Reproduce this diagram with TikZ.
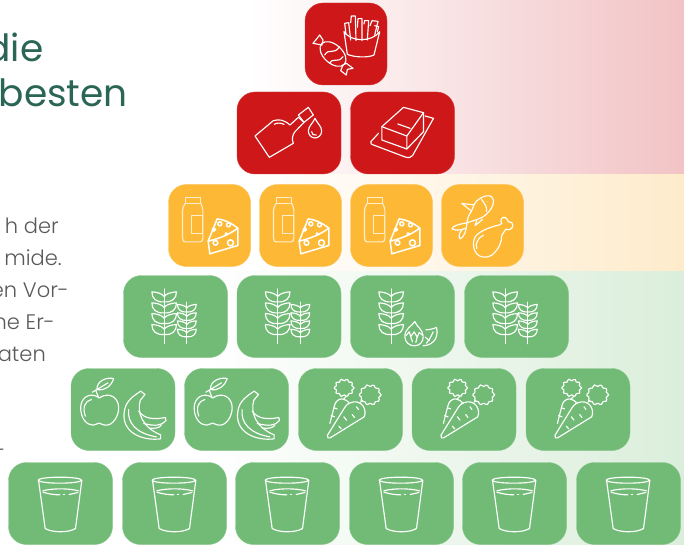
\documentclass[tikz,border=0pt]{standalone}
\usepackage{fontspec}
\setmainfont{Poppins}
\newfontfamily\headfont{Poppins}
\newfontfamily\linefont{Poppins Light}
\definecolor{foodred}{HTML}{CE1719}
\definecolor{foodorange}{HTML}{FDB935}
\definecolor{foodgreen}{HTML}{71BB76}
\definecolor{bandred}{HTML}{F2C3C5}
\definecolor{bandorange}{HTML}{FEEBCB}
\definecolor{bandgreen}{HTML}{DBEEDB}
\definecolor{headgreen}{HTML}{2A6555}
\definecolor{bodygray}{HTML}{58595B}
\newcommand{\wheatear}{
  \draw[iconline] (0,-83)--(0,81);
  \foreach \t in {-74,-41,-9,24} {
    \draw[iconline] (0,\t+30) .. controls (-24,\t+32) and (-37,\t+20) .. (-37,\t) .. controls (-22,\t+1) and (-6,\t+5) .. (0,\t+14);
    \draw[iconline] (0,\t+30) .. controls (24,\t+32) and (37,\t+20) .. (37,\t) .. controls (22,\t+1) and (6,\t+5) .. (0,\t+14);
  }
}
\tikzset{
  foodbox/.style={rounded corners=18pt, minimum height=82pt, inner sep=0pt},
  redsmall/.style={foodbox, fill=foodred, draw=foodred!85!white, line width=.4pt, minimum width=82pt},
  redwide/.style={foodbox, fill=foodred, draw=foodred!85!white, line width=.4pt, minimum width=104pt},
  orangesmall/.style={foodbox, fill=foodorange, draw=foodorange!85!white, line width=.4pt, minimum width=82pt},
  greenwide/.style={foodbox, fill=foodgreen, draw=foodgreen!85!white, line width=.4pt, minimum width=104pt},
  iconline/.style={draw=white, line width=1.15pt, line join=round, line cap=round},
  headtext/.style={anchor=base east, inner sep=0pt, text=headgreen, font=\headfont\fontsize{37.5}{37.5}\selectfont},
  bodytext/.style={anchor=base east, inner sep=0pt, text=bodygray, font=\linefont\fontsize{21}{21}\selectfont},
  pics/grain/.style={code={
    \begin{scope}[shift={(-34,0)}]\wheatear\end{scope}
    \begin{scope}[shift={(34,20)}, scale=.76]\wheatear\end{scope}
  }},
  pics/grainnut/.style={code={
    \begin{scope}[shift={(-34,0)}]\wheatear\end{scope}
    \draw[iconline] (37,15) .. controls (30,28) and (7,35) .. (7,60) .. controls (7,78) and (22,88) .. (35,88) .. controls (52,88) and (64,75) .. (62,58) .. controls (60,38) and (42,30) .. (37,15);
    \draw[iconline] (10,58) -- (20,46) -- (25,60) -- (35,46) -- (44,62) -- (50,48) -- (60,56);
    \draw[iconline] (25,62) -- (30,76);
    \draw[iconline] (44,62) -- (40,78);
    \draw[iconline] (70,40) .. controls (82,40) and (94,36) .. (102,33) .. controls (108,58) and (98,85) .. (62,88);
    \draw[iconline] (72,80) .. controls (82,68) and (88,55) .. (92,46);
    \draw[iconline] (80,72) -- (68,62);
  }},
  pics/friescandy/.style={code={
    \draw[iconline] (-6,-37) .. controls (15,-5) and (78,-5) .. (101,-37) -- (84,33) .. controls (65,42) and (25,40) .. (4,31) -- cycle;
    \draw[iconline] (0,-28) -- (-4,-62) -- (8,-64) -- (14,-12);
    \draw[iconline] (14,-64) -- (16,-84) -- (28,-84) -- (30,-10);
    \draw[iconline] (34,-50) -- (36,-76) -- (48,-76) -- (48,-10);
    \draw[iconline] (54,-60) -- (56,-70) -- (68,-70) -- (64,-12);
    \draw[iconline] (72,-55) -- (78,-70) -- (96,-68) -- (86,-26);
    \draw[iconline] (86,-55) -- (98,-52) -- (94,-36);
    \draw[iconline] (-39,30) ellipse[x radius=46, y radius=28, rotate=-42];
    \draw[iconline] (-64,33) .. controls (-50,10) and (-38,35) .. (-19,8);
    \draw[iconline] (-49,58) .. controls (-38,38) and (-25,60) .. (-9,38);
    \draw[iconline] (-72,3) -- (-99,-2) -- (-89,-14) -- (-79,-27) -- (-69,-12) -- cycle;
    \draw[iconline] (-9,63) -- (-16,80) -- (1,93) -- (4,76) -- (21,73) -- (1,58) -- cycle;
  }},
  pics/oil/.style={code={
    \draw[iconline] (-102,9) -- (-47,-37) .. controls (-30,-42) and (-15,-40) .. (3,-24) -- (28,-47) -- (45,-32) -- (18,-4) .. controls (10,5) and (8,20) .. (13,31) -- (-59,73) -- cycle;
    \draw[iconline] (28,-54) -- (58,-77) -- (73,-54) -- (45,-32) -- cycle;
    \draw[iconline] (-44,-26) .. controls (-35,-32) and (-25,-30) .. (-15,-26);
    \draw[iconline] (78,-44) .. controls (72,-30) and (58,-20) .. (58,-6) .. controls (58,6) and (68,15) .. (78,15) .. controls (88,15) and (98,6) .. (98,-6) .. controls (98,-20) and (84,-30) .. (78,-44);
    \draw[iconline] (68,-4) .. controls (68,4) and (74,8) .. (82,6);
  }},
  pics/butter/.style={code={
    \draw[iconline] (-62,-19) -- (3,-77) -- (63,-61) -- (13,9) -- cycle;
    \draw[iconline] (-62,-19) -- (-62,21) -- (13,48) -- (13,9);
    \draw[iconline] (13,48) -- (63,-4) -- (63,-61);
    \draw[iconline] (-14,-27) -- (23,-14);
    \draw[iconline] (-72,1) -- (-95,26) .. controls (-97,32) and (-93,35) .. (-87,36) -- (8,72) .. controls (18,75) and (25,74) .. (30,68) -- (93,-44) -- (68,-51);
  }},
  pics/milkcheese/.style={code={
    \draw[iconline, draw=white!75!foodorange] (-73,-84) -- (-26,-84) -- (-26,-66) -- (-73,-66) -- cycle;
    \draw[iconline, draw=white!75!foodorange] (-73,-66) .. controls (-78,-58) and (-81,-52) .. (-81,-46) -- (-81,38) .. controls (-81,45) and (-78,49) .. (-73,49) -- (-28,49) .. controls (-23,49) and (-20,45) .. (-20,38) -- (-20,-46) .. controls (-20,-52) and (-23,-58) .. (-26,-66);
    \draw[iconline, draw=white!75!foodorange] (-55,-31) rectangle (-20,24);
    \fill[foodorange] (23,-20) -- (-4,47) -- (1,85) -- (85,60) -- (85,8) -- cycle;
    \draw[iconline, line width=1.5pt] (23,-20) -- (-4,47) -- (1,85) -- (85,60) -- (85,8) .. controls (65,-8) and (42,-18) .. (23,-20) -- cycle;
    \draw[iconline, line width=1.5pt] (-4,47) .. controls (25,40) and (55,30) .. (85,8);
    \foreach \hx/\hy/\hr in {31/-5/6,57/-2/6,13/12/5,50/25/3,18/52/7,63/52/9} {
      \draw[iconline, line width=1.5pt] (\hx,\hy) circle (\hr);
    }
  }},
  pics/fishleg/.style={code={
    \draw[iconline] (13,-89) .. controls (25,-90) and (33,-85) .. (33,-76) .. controls (35,-60) and (20,-36) .. (-2,-24) .. controls (-15,-18) and (-35,-12) .. (-47,-8) .. controls (-45,-20) and (-42,-32) .. (-34,-41) .. controls (-28,-55) and (-25,-66) .. (-17,-74) .. controls (-8,-82) and (3,-88) .. (13,-89);
    \draw[iconline] (-27,-62) -- (-62,-66) -- (-34,-44);
    \draw[iconline] (-47,-8) .. controls (-65,-5) and (-90,0) .. (-92,10) .. controls (-80,18) and (-60,12) .. (-50,8);
    \draw[iconline] (-62,14) .. controls (-72,25) and (-72,35) .. (-67,40) .. controls (-55,35) and (-48,15) .. (-47,-8);
    \draw[iconline] (-17,-17) -- (-22,0) -- (0,-18);
    \draw[iconline] (-3,-78) .. controls (8,-65) and (14,-55) .. (12,-42);
    \fill[white] (16,-71) circle (1.5);
    \draw[iconline] (-22,34) .. controls (-10,18) and (20,5) .. (48,-1) -- (58,-6) .. controls (50,-16) and (60,-28) .. (68,-24) .. controls (75,-22) and (76,-14) .. (78,-11) .. controls (85,-12) and (92,-8) .. (91,-1) .. controls (91,10) and (80,16) .. (70,11) -- (58,29) .. controls (58,50) and (50,70) .. (28,89) .. controls (15,96) and (5,96) .. (-2,94) .. controls (-22,90) and (-35,60) .. (-22,34);
    \draw[iconline] (-17,69) .. controls (-24,55) and (-12,35) .. (3,29);
  }},
  pics/applebanana/.style={code={
    \draw[iconline] (-71,-35) .. controls (-100,-55) and (-127,-35) .. (-127,-5) .. controls (-127,25) and (-110,47) .. (-90,47) .. controls (-80,47) and (-80,41) .. (-72,41) .. controls (-64,41) and (-64,47) .. (-50,47) .. controls (-30,47) and (-13,20) .. (-13,-5) .. controls (-13,-35) and (-40,-55) .. (-71,-35);
    \draw[iconline] (-113,20) .. controls (-122,-5) and (-115,-25) .. (-95,-30);
    \draw[iconline] (-73,-35) -- (-82,-58);
    \draw[iconline] (-92,-52) -- (-78,-60);
    \draw[iconline] (-78,-60) .. controls (-80,-85) and (-50,-98) .. (-28,-93) .. controls (-35,-70) and (-55,-55) .. (-78,-60);
    \draw[iconline] (-78,-60) -- (-45,-80);
    \draw[iconline] (53,-55) -- (66,-45) -- (52,-28) .. controls (40,10) and (60,55) .. (113,76) -- (113,88) .. controls (60,95) and (-10,70) .. (5,0) .. controls (10,-25) and (30,-40) .. (53,-55);
    \draw[iconline] (17,0) .. controls (12,40) and (40,72) .. (100,82);
    \draw[iconline] (47,5) .. controls (65,30) and (95,30) .. (127,24) -- (129,33) .. controls (115,50) and (95,50) .. (62,42);
    \draw[iconline] (115,47) .. controls (110,55) and (95,58) .. (78,56);
  }},
  pics/carrots/.style={code={
    \draw[iconline] (-69,77) .. controls (-72,85) and (-65,88) .. (-61,85) -- (41,22) .. controls (50,0) and (35,-25) .. (10,-23) .. controls (-5,-20) and (-12,-15) .. (-18,-5) -- cycle;
    \draw[iconline] (-62,42) -- (-48,-12) .. controls (-45,-25) and (-35,-32) .. (-25,-32) .. controls (-15,-30) and (-8,-25) .. (-5,-21);
    \draw[iconline] (-58,18) -- (-48,22);
    \draw[iconline] (-50,-5) -- (-40,-2);
    \draw[iconline] (-35,50) -- (-28,58);
    \draw[iconline] (-20,22) -- (-12,32);
    \draw[iconline] (5,15) -- (12,24);
    \draw[iconline] (18,-8) -- (24,0);
    \draw[iconline] (-20,-32) -- (-12,-40);
    \draw[iconline] (30,-22) -- (36,-28);
    \draw[iconline, smooth cycle] plot[samples=37, domain=0:350] ({-19+(27+3*cos(10*\x))*cos(\x)},{-65+(24+3*cos(10*\x))*sin(\x)});
    \draw[iconline, smooth cycle] plot[samples=37, domain=0:350] ({59+(30+3*cos(10*\x))*cos(\x)},{-44+(28+3*cos(10*\x))*sin(\x)});
  }},
  pics/glass/.style={code={
    \draw[iconline] (-2,-70) ellipse[x radius=65, y radius=9];
    \draw[iconline] (-66,-70) -- (-46,75) .. controls (-25,88) and (25,88) .. (45,75) -- (64,-70);
    \draw[iconline] (-53,-38) .. controls (-25,-46) and (25,-46) .. (54,-38);
    \draw[iconline] (-53,-34) .. controls (-35,-28) and (-15,-26) .. (-2,-26);
    \draw[iconline] (9,-26) -- (12,-26);
    \draw[iconline] (26,-27) -- (52,-33);
  }}
}
\begin{document}
\begin{tikzpicture}[x=1pt, y=-1pt]
  \useasboundingbox (0,0) rectangle (684,545);
  \shade[left color=white, right color=bandred] (250,0) rectangle (684,175);
  \shade[left color=white, right color=bandorange] (250,175) rectangle (684,271);
  \shade[left color=white, right color=bandgreen] (200,271) rectangle (684,545);
  \node[headtext] (headone) at (43.5,62) {die};
  \node[headtext] (headtwo) at (128,107) {besten};
  \foreach \p/\cx/\cy/\txt in {lineone/59/233/h der, linetwo/62/265/mide., linethree/69/297/en Vor-, linefour/55/329/ne Er-, linefive/46/361/aten, linesix/5/457/–} {
    \node[bodytext] (\p) at (\cx,\cy) {\txt};
  }
  \foreach \p/\cx/\cy/\st/\ic in {
    top/346/44/redsmall/friescandy,
    oil/289/133/redwide/oil, butter/402.5/133/redwide/butter,
    milka/209.5/225.5/orangesmall/milkcheese, milkb/300.5/225.5/orangesmall/milkcheese,
    milkc/391.5/225.5/orangesmall/milkcheese, fish/482.5/225.5/orangesmall/fishleg,
    graina/175.5/316.5/greenwide/grain, grainb/289/316.5/greenwide/grain,
    grainc/402.5/316.5/greenwide/grainnut, graind/516.5/316.5/greenwide/grain,
    fruita/123/409.5/greenwide/applebanana, fruitb/236.5/409.5/greenwide/applebanana,
    vega/350.5/409.5/greenwide/carrots, vegb/464/409.5/greenwide/carrots, vegc/578/409.5/greenwide/carrots,
    glassa/60.5/503.5/greenwide/glass, glassb/174.5/503.5/greenwide/glass, glassc/287.5/503.5/greenwide/glass,
    glassd/401.5/503.5/greenwide/glass, glasse/514.5/503.5/greenwide/glass, glassf/628.5/503.5/greenwide/glass} {
    \node[\st] (\p) at (\cx,\cy) {};
    \pic[scale=1/3] at (\p) {\ic};
  }
\end{tikzpicture}
\end{document}
